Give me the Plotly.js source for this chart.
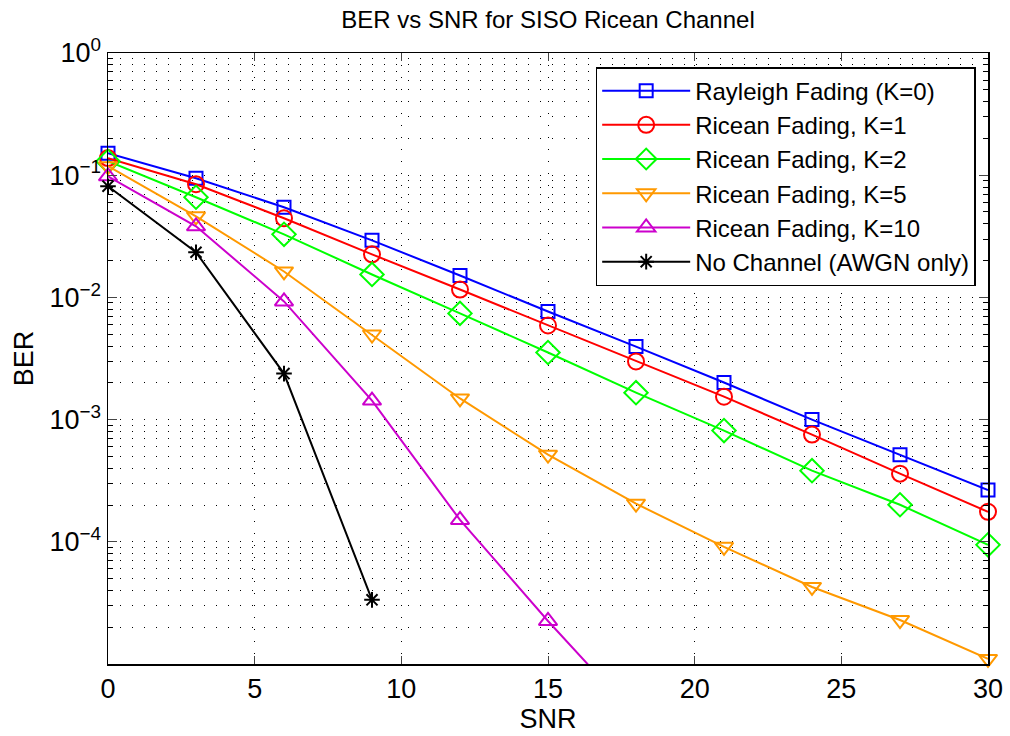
<!DOCTYPE html>
<html>
<head>
<meta charset="utf-8">
<script src="https://cdn.plot.ly/plotly-3.0.1.min.js"></script>
<style>html,body{margin:0;padding:0;background:#fff;}#chart{width:1010px;height:736px;}</style>
</head>
<body>
<div id="chart"></div>
<script>
// Data
const snr = [0, 3, 6, 9, 12, 15, 18, 21, 24, 27, 30];
const berRayleigh = [0.151, 0.0945, 0.0547, 0.0293, 0.0151, 0.00767, 0.00396, 0.00201, 0.00100, 0.000516, 0.000265];
const berK1 = [0.138, 0.0844, 0.0444, 0.0225, 0.0116, 0.00589, 0.00299, 0.00154, 0.000754, 0.000361, 0.000176];
const berK2 = [0.130, 0.0660, 0.0328, 0.0154, 0.0074, 0.00354, 0.00166, 0.000813, 0.000382, 0.000201, 0.0000944];
const berK5 = [0.1185, 0.0461, 0.0163, 0.00497, 0.00149, 0.000516, 0.000205, 0.0000910, 0.0000427, 0.0000229, 0.0000110];
const snrK10 = [0, 3, 6, 9, 12, 15, 18];
const berK10 = [0.098, 0.0382, 0.00927, 0.00143, 0.000151, 0.0000225, 0.0000037];
const snrAwgn = [0, 3, 6, 9];
const berAwgn = [0.0813, 0.0234, 0.00238, 0.0000335];

const seriesNames = ['Rayleigh Fading (K=0)', 'Ricean Fading, K=1', 'Ricean Fading, K=2',
  'Ricean Fading, K=5', 'Ricean Fading, K=10', 'No Channel (AWGN only)'];
const yTickVals = [1, 0.1, 0.01, 0.001, 0.0001];
const yTickText = ['10<sup>0</sup>', '10<sup>\u22121</sup>', '10<sup>\u22122</sup>', '10<sup>\u22123</sup>', '10<sup>\u22124</sup>'];
const xTickVals = [0, 5, 10, 15, 20, 25, 30];

function tr(x, y, name, color, symbol, size) {
  return {
    x: x, y: y, name: name, type: 'scatter', mode: 'lines+markers',
    cliponaxis: false,
    line: {color: color, width: 2},
    marker: {symbol: symbol, size: size, color: color, line: {color: color, width: 2}}
  };
}

const data = [
  tr(snr, berRayleigh, seriesNames[0], '#0000FF', 'square-open', 13),
  tr(snr, berK1, seriesNames[1], '#FF0000', 'circle-open', 16),
  tr(snr, berK2, seriesNames[2], '#00FF00', 'diamond-open', 18),
  tr(snr, berK5, seriesNames[3], '#FF9900', 'triangle-down-open', 16),
  tr(snrK10, berK10, seriesNames[4], '#CC00CC', 'triangle-up-open', 16),
  tr(snrAwgn, berAwgn, seriesNames[5], '#000000', 'asterisk-open', 13)
];

const gridDash = '1px,11px';
const layout = {
  width: 1010, height: 736,
  margin: {l: 108, r: 22, t: 53, b: 72},
  paper_bgcolor: '#ffffff', plot_bgcolor: '#ffffff',
  font: {family: 'Liberation Sans, Arial, sans-serif', color: '#000', size: 27},
  title: {text: 'BER vs SNR for SISO Ricean Channel', font: {size: 24, color: '#000'}, x: 0.5, xref: 'paper', y: 0.973, yanchor: 'middle'},
  showlegend: true,
  legend: {
    x: 0.986, xanchor: 'right', y: 0.977, yanchor: 'top',
    bordercolor: '#000', borderwidth: 1.5, bgcolor: '#fff',
    font: {size: 24}, itemwidth: 88, tracegroupgap: 0
  },
  xaxis: {
    range: [0, 30], tickvals: xTickVals, ticks: 'inside', ticklen: 8, tickwidth: 1,
    showline: true, linecolor: '#000', linewidth: 1.5, mirror: 'ticks',
    showgrid: true, gridcolor: '#000', gridwidth: 1, griddash: gridDash,
    zeroline: false, tickfont: {size: 27},
    title: {text: 'SNR', font: {size: 27}, standoff: 4}
  },
  yaxis: {
    type: 'log', range: [-5, 0], tickvals: yTickVals, ticktext: yTickText,
    ticks: 'inside', ticklen: 9, tickwidth: 1,
    showline: true, linecolor: '#000', linewidth: 1.5, mirror: 'ticks',
    showgrid: true, gridcolor: '#000', gridwidth: 1, griddash: gridDash,
    zeroline: false, tickfont: {size: 27},
    minor: {ticks: 'inside', ticklen: 5, tickcolor: '#000', showgrid: true, gridcolor: '#000', gridwidth: 1, griddash: gridDash, dtick: 'D1'},
    title: {text: 'BER', font: {size: 27}, standoff: 8}
  }
};

Plotly.newPlot('chart', data, layout, {displayModeBar: false, staticPlot: true});
</script>
</body>
</html>
